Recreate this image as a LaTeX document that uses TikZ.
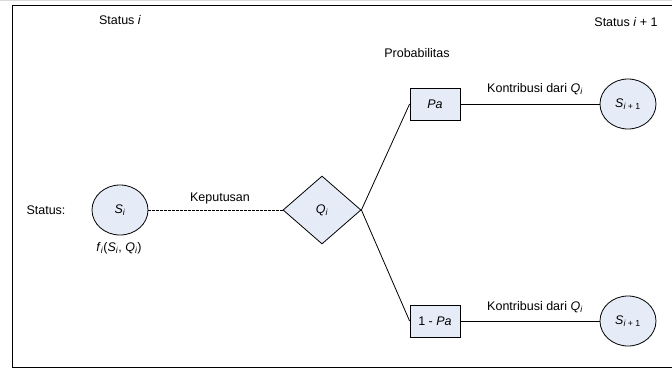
\documentclass[tikz,border=0pt]{standalone}
\usepackage{fontspec}
\setmainfont{Liberation Sans}
\usetikzlibrary{shapes.geometric}
\definecolor{nodefill}{RGB}{230,236,247}
\newcommand{\sbi}[1]{\textsubscript{\itshape #1}}
\begin{document}
\begin{tikzpicture}[x=1pt,y=-1pt,
  every node/.style={font=\fontsize{12.5}{14}\selectfont, inner sep=0pt},
  statenode/.style={ellipse, draw, line width=0.8pt, fill=nodefill, minimum width=56pt, minimum height=50pt},
  probbox/.style={rectangle, draw, line width=0.8pt, fill=nodefill, minimum width=50pt, minimum height=32pt},
  decisionnode/.style={diamond, draw, line width=0.8pt, fill=nodefill, minimum width=78pt, minimum height=68pt},
  conn/.style={line width=0.8pt},
  lbl/.style={}]
\useasboundingbox (0,0) rectangle (672,370);
% frame
\draw[gray!30, line width=1pt] (0,0.5) -- (672,0.5);
\draw[line width=1pt] (672,5) -- (12,5) -- (12,367) -- (672,367);
% headings
\node[lbl] (hi) at (120,20) {Status \textit{i}};
\node[lbl] (hi1) at (626,22) {Status \textit{i} + 1};
\node[lbl] (prob) at (417,53) {Probabilitas};
\node[lbl] (st) at (46,210) {Status:};
% nodes
\node[statenode] (si) at (120,210) {\textit{S}\sbi{i}};
\node[decisionnode] (q) at (322,210) {\textit{Q}\sbi{i}};
\node[probbox] (pa) at (435,104) {\textit{Pa}};
\node[probbox] (npa) at (435,321) {1 - \textit{Pa}};
\node[statenode] (s1) at (628,104) {\textit{S}\textsubscript{\itshape i\upshape\ + 1}};
\node[statenode] (s2) at (628,321) {\textit{S}\textsubscript{\itshape i\upshape\ + 1}};
% labels
\node[lbl] (fi) at (119,248) {\textit{f}\sbi{i}(\textit{S}\sbi{i}, \textit{Q}\sbi{i})};
\node[lbl] (kep) at (220,198) {Keputusan};
\node[lbl] (k1) at (535,89) {Kontribusi dari \textit{Q}\sbi{i}};
\node[lbl] (k2) at (535,307) {Kontribusi dari \textit{Q}\sbi{i}};
% connectors
\draw[conn, dash pattern=on 2.5pt off 1.5pt] (si.east) -- (q.west);
\draw[conn] (q.east) -- (pa.west);
\draw[conn] (q.east) -- (npa.west);
\draw[conn] (pa.east) -- (s1.west);
\draw[conn] (npa.east) -- (s2.west);
\end{tikzpicture}
\end{document}
